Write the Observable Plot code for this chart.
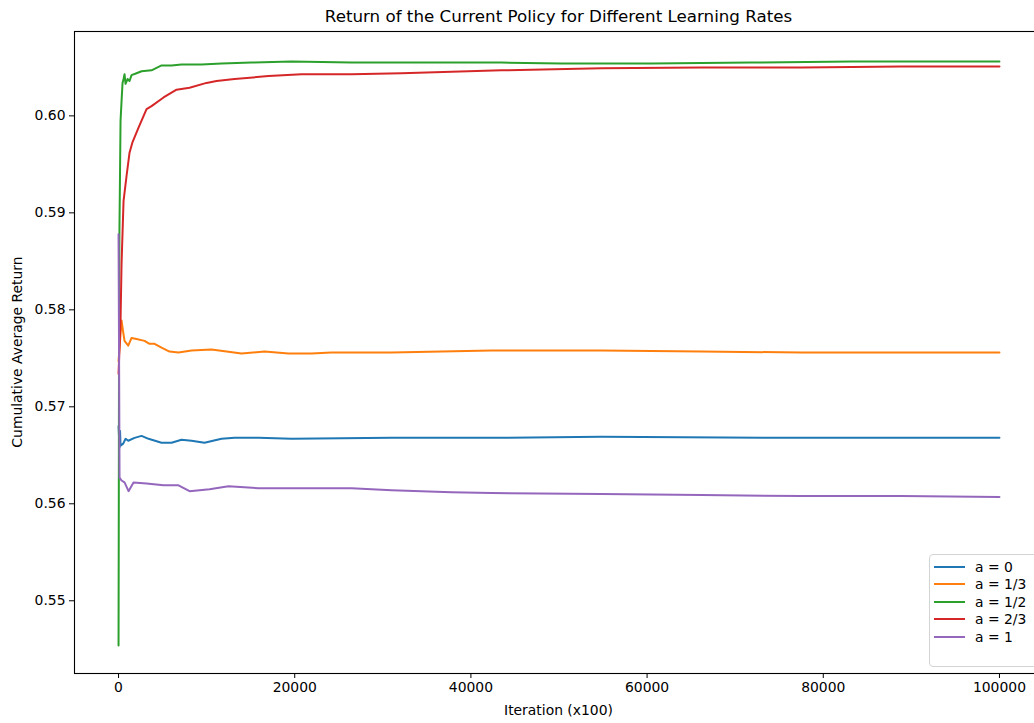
<!DOCTYPE html>
<html>
<head>
<meta charset="utf-8">
<script src="https://cdn.jsdelivr.net/npm/d3@7"></script>
<script src="https://cdn.jsdelivr.net/npm/@observablehq/plot@0.6"></script>
<style>
  html, body { margin: 0; padding: 0; background: #fff; overflow: hidden; }
  #wrap { position: relative; width: 1034px; height: 723px; overflow: hidden; font-family: "DejaVu Sans", sans-serif; }
  #chart svg { max-width: none !important; width: 1050px; height: 723px; display: block; }
  #title { position: absolute; left: 74px; width: 969px; top: 6px; text-align: center; font-size: 16.7px; color: #000; }
  #xlabel { position: absolute; left: 74px; width: 969px; top: 702px; text-align: center; font-size: 13.9px; color: #000; }
  #ylabel { position: absolute; left: 17px; top: 352px; transform: translate(-50%, -50%) rotate(-90deg); white-space: nowrap; font-size: 13.9px; color: #000; }
  #legend { position: absolute; left: 929px; top: 554px; width: 120px; height: 113px; box-sizing: border-box;
            border: 1px solid #d4d4d4; border-radius: 4px; background: rgba(255,255,255,0.85); }
  .lg { position: absolute; left: 4px; height: 17px; display: flex; align-items: center; font-size: 13.9px; color: #000; }
  .lg span.sw { display: inline-block; width: 31px; height: 2px; margin-right: 10px; }
</style>
</head>
<body>
<div id="wrap">
  <div id="chart"></div>
  <div id="title">Return of the Current Policy for Different Learning Rates</div>
  <div id="xlabel">Iteration (x100)</div>
  <div id="ylabel">Cumulative Average Return</div>
  <div id="legend"></div>
</div>
<script>
// ---- data ----
const seriesLabels = ["a = 0", "a = 1/3", "a = 1/2", "a = 2/3", "a = 1"];
const seriesColors = ["#1f77b4", "#ff7f0e", "#2ca02c", "#d62728", "#9467bd"];

const a0Iter   = [0, 113, 170, 227, 530, 800, 1100, 1816, 2610, 3405, 4880, 6016, 7150, 8286, 9760, 11690, 13166, 15890, 19636, 31000, 42336, 54800, 77500, 100000];
const a0Return = [0.5680, 0.5658, 0.5675, 0.5660, 0.5662, 0.5667, 0.5665, 0.5668, 0.5670, 0.5667, 0.5663, 0.5663, 0.5666, 0.5665, 0.5663, 0.5667, 0.5668, 0.5668, 0.5667, 0.5668, 0.5668, 0.5669, 0.5668, 0.5668];

const a13Iter   = [0, 340, 510, 680, 1100, 1475, 2043, 2951, 3518, 4086, 4880, 5788, 6810, 8286, 10556, 13960, 16570, 19300, 21900, 24175, 31000, 42336, 54800, 66170, 77500, 88870, 100000];
const a13Return = [0.5747, 0.5789, 0.5778, 0.5768, 0.5763, 0.5771, 0.5770, 0.5768, 0.5765, 0.5765, 0.5761, 0.5757, 0.5756, 0.5758, 0.5759, 0.5755, 0.5757, 0.5755, 0.5755, 0.5756, 0.5756, 0.5758, 0.5758, 0.5757, 0.5756, 0.5756, 0.5756];

const a12Iter   = [0, 30, 60, 100, 170, 227, 340, 454, 567, 681, 795, 1022, 1248, 1476, 2043, 2610, 3746, 4881, 6016, 7151, 9421, 11700, 15100, 19636, 26446, 32121, 37800, 43471, 50280, 60500, 71850, 83200, 100000];
const a12Return = [0.5454, 0.5603, 0.5809, 0.5881, 0.5943, 0.5995, 0.6015, 0.6034, 0.6038, 0.6043, 0.6033, 0.6038, 0.6036, 0.6042, 0.6044, 0.6046, 0.6047, 0.6052, 0.6052, 0.6053, 0.6053, 0.6054, 0.6055, 0.6056, 0.6055, 0.6055, 0.6055, 0.6055, 0.6054, 0.6054, 0.6055, 0.6056, 0.6056];

const a23Iter   = [0, 227, 340, 567, 908, 1248, 1589, 2270, 3178, 3746, 5108, 6583, 8059, 9988, 11123, 13166, 17025, 20771, 26446, 32121, 43471, 54821, 66171, 77521, 88871, 100000];
const a23Return = [0.5734, 0.5789, 0.5847, 0.5912, 0.5938, 0.5962, 0.5973, 0.5988, 0.6007, 0.6010, 0.6019, 0.6027, 0.6029, 0.6034, 0.6036, 0.6038, 0.6041, 0.6043, 0.6043, 0.6044, 0.6047, 0.6049, 0.6050, 0.6050, 0.6051, 0.6051];

const a1Iter   = [0, 57, 113, 340, 680, 1135, 1700, 3178, 5108, 6810, 8060, 10330, 12485, 15890, 19636, 26446, 31000, 37800, 42336, 54800, 66170, 77500, 88870, 100000];
const a1Return = [0.5878, 0.5758, 0.5627, 0.5624, 0.5622, 0.5613, 0.5622, 0.5621, 0.5619, 0.5619, 0.5613, 0.5615, 0.5618, 0.5616, 0.5616, 0.5616, 0.5614, 0.5612, 0.5611, 0.5610, 0.5609, 0.5608, 0.5608, 0.5607];

const xTicks = [0, 20000, 40000, 60000, 80000, 100000];
const yTicks = [0.55, 0.56, 0.57, 0.58, 0.59, 0.60];

// ---- build table ----
const iters = [a0Iter, a13Iter, a12Iter, a23Iter, a1Iter];
const rets  = [a0Return, a13Return, a12Return, a23Return, a1Return];
const rows = [];
seriesLabels.forEach((s, i) => {
  iters[i].forEach((it, j) => rows.push({series: s, iter: it, ret: rets[i][j]}));
});

const chart = Plot.plot({
  width: 1050,
  height: 723,
  marginLeft: 74,
  marginRight: 7,
  marginTop: 31,
  marginBottom: 50,
  style: {fontFamily: "DejaVu Sans, sans-serif", fontSize: "13.9px", background: "white", color: "#000"},
  x: {
    domain: [-5000, 105000],
    ticks: xTicks,
    tickFormat: d3.format("d"),
    tickSize: 5,
    tickPadding: 4,
    label: null
  },
  y: {
    domain: [0.5425, 0.6087],
    ticks: yTicks,
    tickFormat: d3.format(".2f"),
    tickSize: 5,
    tickPadding: 4,
    label: null
  },
  color: {domain: seriesLabels, range: seriesColors},
  marks: [
    ...seriesLabels.map(s => Plot.line(rows.filter(r => r.series === s), {
      x: "iter", y: "ret", stroke: "series", strokeWidth: 2, strokeLinejoin: "round"
    })),
    Plot.frame({stroke: "#000", strokeWidth: 1.1})
  ]
});
document.getElementById("chart").appendChild(chart);

// ---- legend ----
const lg = document.getElementById("legend");
seriesLabels.forEach((s, i) => {
  const d = document.createElement("div");
  d.className = "lg";
  d.style.top = (3 + i * 17.6) + "px";
  d.innerHTML = `<span class="sw" style="background:${seriesColors[i]}"></span>${s}`;
  lg.appendChild(d);
});
</script>
</body>
</html>
